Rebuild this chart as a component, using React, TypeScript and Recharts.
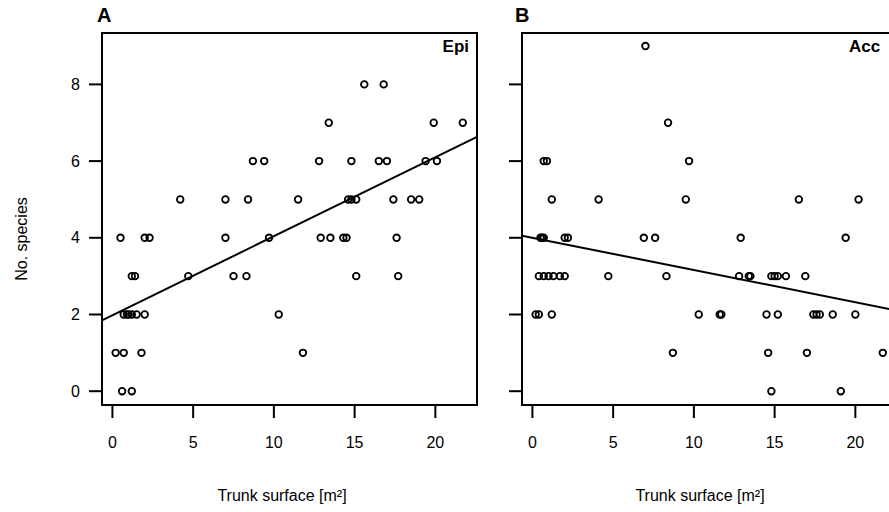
import React from "react";
import {
  ReferenceArea, ReferenceLine, Scatter, ScatterChart, XAxis, YAxis
} from "recharts";

// panel A: epiphytes
const epiSurface = [
  15.6, 16.8,
  13.4, 19.9, 21.7,
  8.7, 9.4, 12.8, 14.8, 16.5, 17.0, 19.4, 20.1,
  4.2, 7.0, 8.4, 11.5, 14.6, 14.8, 15.1, 17.4, 18.5, 19.0,
  0.5, 2.0, 2.3, 7.0, 9.7, 12.9, 13.5, 14.3, 14.5, 17.6,
  1.2, 1.4, 4.7, 7.5, 8.3, 15.1, 17.7,
  0.7, 0.9, 1.0, 1.2, 1.5, 2.0, 10.3,
  0.2, 0.7, 1.8, 11.8,
  0.6, 1.2,
];
const epiSpecies = [
  8, 8,
  7, 7, 7,
  6, 6, 6, 6, 6, 6, 6, 6,
  5, 5, 5, 5, 5, 5, 5, 5, 5, 5,
  4, 4, 4, 4, 4, 4, 4, 4, 4, 4,
  3, 3, 3, 3, 3, 3, 3,
  2, 2, 2, 2, 2, 2, 2,
  1, 1, 1, 1,
  0, 0,
];

// panel B: accidentals
const accSurface = [
  7.0,
  8.4,
  0.7, 0.9, 9.7,
  1.2, 4.1, 9.5, 16.5, 20.2,
  0.5, 0.6, 0.7, 2.0, 2.2, 6.9, 7.6, 12.9, 19.4,
  0.4, 0.7, 1.0, 1.3, 1.7, 2.0, 4.7, 8.3, 12.8, 13.4, 13.5, 14.8, 15.0, 15.2, 15.7, 16.9,
  0.2, 0.4, 1.2, 10.3, 11.6, 11.7, 14.5, 15.2, 17.4, 17.6, 17.8, 18.6, 20.0,
  8.7, 14.6, 17.0, 21.7,
  14.8, 19.1,
];
const accSpecies = [
  9,
  7,
  6, 6, 6,
  5, 5, 5, 5, 5,
  4, 4, 4, 4, 4, 4, 4, 4, 4,
  3, 3, 3, 3, 3, 3, 3, 3, 3, 3, 3, 3, 3, 3, 3, 3,
  2, 2, 2, 2, 2, 2, 2, 2, 2, 2, 2, 2, 2,
  1, 1, 1, 1,
  0, 0,
];

// fitted lines (intercept, slope)
const epiFit = [1.98, 0.206];
const accFit = [4.0, -0.084];

const xTicks = [0, 5, 10, 15, 20];
const yTicks = [0, 2, 4, 6, 8];
const xDomain = [-0.645, 22.58];
const yDomain = [-0.36, 9.34];

const FONT = "'Liberation Sans', Arial, sans-serif";

const dot = (p: any) => (
  <circle cx={p.cx} cy={p.cy} r={3.3} fill="none" stroke="#000" strokeWidth={1.8} />
);

const Panel = ({ xs, ys, fit, showY }: any) => {
  const data = xs.map((x: number, i: number) => ({ x, y: ys[i] }));
  const x0 = xDomain[0];
  const x1 = xDomain[1];
  return (
    <ScatterChart
      width={500}
      height={512}
      margin={{ top: 33, right: 23, left: 0, bottom: 0 }}
      style={{ fontFamily: FONT }}
    >
      <XAxis
        type="number"
        dataKey="x"
        domain={xDomain}
        ticks={xTicks}
        allowDataOverflow
        axisLine={false}
        tickSize={13}
        tickMargin={19}
        height={107}
        tickLine={{ stroke: "#000", strokeWidth: 2 }}
        tick={{ fill: "#000", fontSize: 16 }}
      />
      <YAxis
        type="number"
        dataKey="y"
        domain={yDomain}
        ticks={yTicks}
        allowDataOverflow
        axisLine={false}
        width={102}
        tickSize={13}
        tickMargin={9}
        tickLine={{ stroke: "#000", strokeWidth: 2 }}
        tick={{ fill: "#000", fontSize: 16 }}
        tickFormatter={(v: number) => (showY ? String(v) : "")}
      />
      <ReferenceArea
        x1={xDomain[0]}
        x2={xDomain[1]}
        y1={yDomain[0]}
        y2={yDomain[1]}
        fill="none"
        fillOpacity={0}
        stroke="#000"
        strokeWidth={2}
        ifOverflow="visible"
      />
      <ReferenceLine
        segment={[
          { x: x0, y: fit[0] + fit[1] * x0 },
          { x: x1, y: fit[0] + fit[1] * x1 },
        ]}
        stroke="#000"
        strokeWidth={2}
        ifOverflow="visible"
      />
      <Scatter data={data} shape={dot} isAnimationActive={false} />
    </ScatterChart>
  );
};

const txt: React.CSSProperties = { position: "absolute", whiteSpace: "nowrap", color: "#000" };

export default function App() {
  return (
    <div
      style={{
        position: "fixed", top: 0, left: 0, width: 889, height: 512,
        overflow: "hidden", background: "#fff", fontFamily: FONT,
      }}
    >
      <div style={{ position: "absolute", left: 0, top: 0 }}>
        <Panel xs={epiSurface} ys={epiSpecies} fit={epiFit} showY />
      </div>
      <div style={{ position: "absolute", left: 420, top: 0 }}>
        <Panel xs={accSurface} ys={accSpecies} fit={accFit} showY={false} />
      </div>

      <div style={{ ...txt, left: 97, top: 4, fontSize: 20, fontWeight: "bold" }}>A</div>
      <div style={{ ...txt, left: 515, top: 4, fontSize: 20, fontWeight: "bold" }}>B</div>
      <div style={{ ...txt, right: 889 - 469, top: 37, fontSize: 17, fontWeight: "bold" }}>Epi</div>
      <div style={{ ...txt, left: 849, top: 37, fontSize: 17, fontWeight: "bold" }}>Acc</div>

      <div
        style={{
          ...txt, left: 22, top: 239, fontSize: 16,
          transform: "translate(-50%, -50%) rotate(-90deg)",
        }}
      >
        No. species
      </div>
      <div style={{ ...txt, left: 282, top: 496, fontSize: 16, transform: "translate(-50%, -50%)" }}>
        Trunk surface [m²]
      </div>
      <div style={{ ...txt, left: 700, top: 496, fontSize: 16, transform: "translate(-50%, -50%)" }}>
        Trunk surface [m²]
      </div>
    </div>
  );
}
